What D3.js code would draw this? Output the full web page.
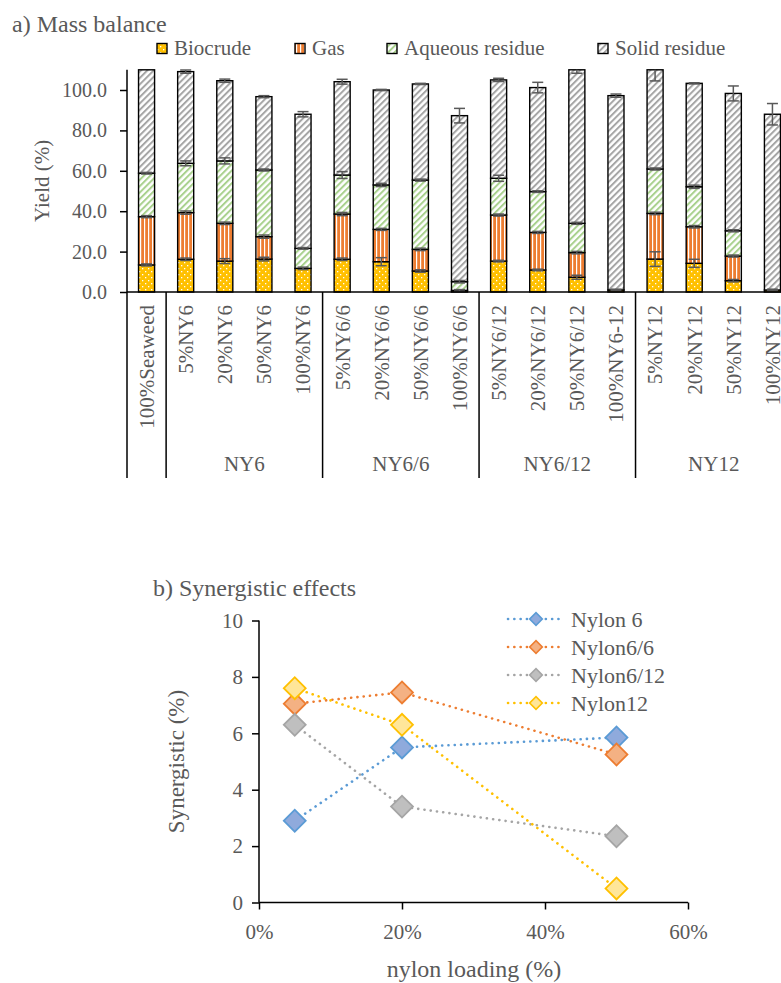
<!DOCTYPE html>
<html>
<head>
<meta charset="utf-8">
<script src="https://cdn.jsdelivr.net/npm/d3@7"></script>
<style>
  body { margin: 0; background: #fff; }
  svg { display: block; font-family: "Liberation Serif", serif; }
  text { fill: #595959; }
</style>
</head>
<body>
<svg id="chart" width="781" height="983"></svg>
<script>
"use strict";

// ---- data: a) mass balance ----
const categories = ["100%Seaweed", "5%NY6", "20%NY6", "50%NY6", "100%NY6",
    "5%NY6/6", "20%NY6/6", "50%NY6/6", "100%NY6/6",
    "5%NY6/12", "20%NY6/12", "50%NY6/12", "100%NY6-12",
    "5%NY12", "20%NY12", "50%NY12", "100%NY12"];
const groupNames = ["", "NY6", "NY6/6", "NY6/12", "NY12"];
const groupSizes = [1, 4, 4, 4, 4];

const biocrude = [13.4, 16.2, 15.3, 16.3, 11.7, 16.2, 15.0, 10.4, 0.8, 15.3, 10.9, 7.3, 1.0, 16.3, 14.2, 5.6, 1.0];
const gas      = [23.9, 23.1, 18.7, 11.1, 0.0, 22.4, 16.0, 10.7, 0.0, 22.8, 18.6, 12.2, 0.0, 22.6, 18.1, 12.2, 0.0];
const aqueous  = [21.5, 24.4, 30.9, 33.0, 9.9, 19.3, 22.0, 34.3, 4.3, 18.2, 20.2, 14.5, 0.0, 22.0, 19.8, 12.5, 0.0];
const solid    = [56.2, 45.4, 39.7, 36.3, 66.4, 46.2, 47.0, 47.6, 82.2, 48.7, 51.5, 76.3, 96.2, 50.6, 51.2, 68.0, 87.0];

const biocrudeErr = [0.5, 0.6, 1.2, 0.9, 0.6, 0.6, 2.0, 0.6, 0.4, 0.4, 0.4, 1.0, 0.4, 3.6, 2.0, 0.6, 0.4];
const gasErr      = [0.5, 0.8, 0.6, 0.8, 0.0, 0.8, 0.5, 0.6, 0.0, 0.5, 0.5, 0.6, 0.0, 0.6, 0.6, 0.5, 0.0];
const aqueousErr  = [0.4, 1.2, 1.5, 0.5, 0.4, 1.7, 0.8, 0.5, 0.6, 1.5, 0.4, 0.5, 0.0, 0.5, 0.8, 0.5, 0.0];
const solidErr    = [1.0, 0.8, 0.8, 0.5, 1.3, 1.2, 0.3, 0.3, 3.6, 0.8, 2.6, 2.0, 0.8, 7.0, 0.3, 3.7, 5.3];

const yieldTicks = [0, 20, 40, 60, 80, 100];

// ---- data: b) synergistic effects ----
const loadings = [0.05, 0.20, 0.50];
const nylon6   = [2.9, 5.5, 5.85];
const nylon66  = [7.05, 7.45, 5.25];
const nylon612 = [6.3, 3.4, 2.35];
const nylon12  = [7.6, 6.3, 0.5];
const loadingTicks = [0, 0.2, 0.4, 0.6];
const synTicks = [0, 2, 4, 6, 8, 10];

const svg = d3.select("#chart");
const defs = svg.append("defs");

// fill patterns
const pBio = defs.append("pattern").attr("id", "pBio")
    .attr("patternUnits", "userSpaceOnUse").attr("width", 6).attr("height", 6);
pBio.append("rect").attr("width", 6).attr("height", 6).attr("fill", "#FFC000");
pBio.append("rect").attr("x", 1).attr("y", 1).attr("width", 1.3).attr("height", 1.3).attr("fill", "#fff");
pBio.append("rect").attr("x", 4).attr("y", 4).attr("width", 1.3).attr("height", 1.3).attr("fill", "#fff");

const pGas = defs.append("pattern").attr("id", "pGas")
    .attr("patternUnits", "userSpaceOnUse").attr("width", 4).attr("height", 4);
pGas.append("rect").attr("width", 4).attr("height", 4).attr("fill", "#ED7D31");
pGas.append("rect").attr("x", 0).attr("width", 1.2).attr("height", 4).attr("fill", "#fff");

function stripes(id, color) {
    const p = defs.append("pattern").attr("id", id)
        .attr("patternUnits", "userSpaceOnUse").attr("width", 4.5).attr("height", 4.5)
        .attr("patternTransform", "rotate(45)");
    p.append("rect").attr("width", 4.5).attr("height", 4.5).attr("fill", "#fff");
    p.append("rect").attr("width", 2).attr("height", 4.5).attr("fill", color);
}
stripes("pAq", "#A9D18E");
stripes("pSolid", "#A5A5A5");

const series = [
    { name: "Biocrude", values: biocrude, err: biocrudeErr, fill: "url(#pBio)" },
    { name: "Gas", values: gas, err: gasErr, fill: "url(#pGas)" },
    { name: "Aqueous residue", values: aqueous, err: aqueousErr, fill: "url(#pAq)" },
    { name: "Solid residue", values: solid, err: solidErr, fill: "url(#pSolid)" }
];

// ================= a) Mass balance =================
const x = d3.scaleBand().domain(categories).range([127, 792])
    .paddingInner(0.59).paddingOuter(0.295);
const y = d3.scaleLinear().domain([0, 110]).range([292, 69.8]).clamp(true);

svg.append("text").attr("x", 12).attr("y", 32)
    .style("font-size", "24px").text("a) Mass balance");

// stacked bars
const stack = categories.map((c, i) => {
    let base = 0;
    return series.map(s => {
        const seg = { cat: c, y0: base, y1: base + s.values[i], err: s.err[i], fill: s.fill };
        base += s.values[i];
        return seg;
    });
});

const barG = svg.append("g");
stack.forEach(segs => {
    segs.forEach(d => {
        if (d.y1 - d.y0 <= 0) return;
        barG.append("rect")
            .attr("x", x(d.cat))
            .attr("y", y(d.y1))
            .attr("width", x.bandwidth())
            .attr("height", y(d.y0) - y(d.y1))
            .attr("fill", d.fill)
            .attr("stroke", "#000")
            .attr("stroke-width", 1.4);
    });
});

// error bars
const errG = svg.append("g").attr("stroke", "#595959").attr("stroke-width", 1.5);
stack.forEach(segs => {
    segs.forEach(d => {
        if (d.err <= 0) return;
        const cx = x(d.cat) + x.bandwidth() / 2;
        errG.append("line").attr("x1", cx).attr("x2", cx)
            .attr("y1", y(d.y1 - d.err)).attr("y2", y(d.y1 + d.err));
        [d.y1 - d.err, d.y1 + d.err].forEach(v => {
            if (v > 110) return;
            errG.append("line").attr("x1", cx - 5.5).attr("x2", cx + 5.5)
                .attr("y1", y(v)).attr("y2", y(v));
        });
    });
});

// y axis
const yAxisG = svg.append("g").attr("transform", "translate(127,0)")
    .call(d3.axisLeft(y).tickValues(yieldTicks).tickSize(7).tickFormat(d3.format(".1f")));
yAxisG.select(".domain").attr("stroke", "#000").attr("stroke-width", 1.5)
    .attr("d", `M0,${y(110)}V${y(0)}`);
yAxisG.selectAll(".tick line").attr("stroke", "#000").attr("stroke-width", 1.5);
yAxisG.selectAll(".tick text").attr("x", -20).style("font-size", "20px")
    .style("font-family", "Liberation Serif").attr("fill", "#595959");

svg.append("text")
    .attr("transform", `translate(49,${y(55)}) rotate(-90)`)
    .attr("text-anchor", "middle")
    .style("font-size", "21px").text("Yield (%)");

// x axis line
svg.append("line").attr("x1", 127).attr("x2", 792).attr("y1", 292).attr("y2", 292)
    .attr("stroke", "#000").attr("stroke-width", 1.5);

// category labels
svg.append("g").selectAll("text").data(categories).join("text")
    .attr("transform", d => `translate(${x(d) + x.bandwidth() / 2},305) rotate(-90)`)
    .attr("text-anchor", "end")
    .attr("dy", "0.35em")
    .style("font-size", "21px")
    .text(d => d);

// group separators and labels
let cum = 0;
const step = x.step();
groupSizes.forEach((n, gi) => {
    const left = 127 + cum * step;
    svg.append("line").attr("x1", left).attr("x2", left).attr("y1", 292).attr("y2", 478)
        .attr("stroke", "#000").attr("stroke-width", 1.5);
    svg.append("text").attr("x", left + n * step / 2).attr("y", 471)
        .attr("text-anchor", "middle").style("font-size", "21px").text(groupNames[gi]);
    cum += n;
});
svg.append("line").attr("x1", 127 + cum * step).attr("x2", 127 + cum * step)
    .attr("y1", 292).attr("y2", 478).attr("stroke", "#000").attr("stroke-width", 1.5);

// legend
const legendX = [157, 295, 387, 598];
series.forEach((s, i) => {
    svg.append("rect").attr("x", legendX[i]).attr("y", 43.5).attr("width", 10).attr("height", 10)
        .attr("fill", s.fill).attr("stroke", "#000").attr("stroke-width", 1.4);
    svg.append("text").attr("x", legendX[i] + 17).attr("y", 55)
        .style("font-size", "21px").text(s.name);
});

// ================= b) Synergistic effects =================
const x2 = d3.scaleLinear().domain([0, 0.6]).range([259, 688]);
const y2 = d3.scaleLinear().domain([0, 10]).range([902.5, 620.5]);

svg.append("text").attr("x", 153).attr("y", 596)
    .style("font-size", "24px").text("b) Synergistic effects");

const xAxis2 = svg.append("g").attr("transform", "translate(0,902.5)")
    .call(d3.axisBottom(x2).tickValues(loadingTicks).tickSize(7).tickFormat(d3.format(".0%")));
const yAxis2 = svg.append("g").attr("transform", "translate(259,0)")
    .call(d3.axisLeft(y2).tickValues(synTicks).tickSize(7));
[xAxis2, yAxis2].forEach(g => {
    g.select(".domain").attr("stroke", "#000").attr("stroke-width", 1.5);
    g.selectAll(".tick line").attr("stroke", "#000").attr("stroke-width", 1.5);
    g.selectAll(".tick text").style("font-size", "21px")
        .style("font-family", "Liberation Serif").attr("fill", "#595959");
});
xAxis2.select(".domain").attr("d", `M${x2(0)},0H${x2(0.6)}`);
yAxis2.select(".domain").attr("d", `M0,${y2(10)}V${y2(0)}`);
xAxis2.selectAll(".tick text").attr("y", 22);
yAxis2.selectAll(".tick text").attr("x", -16);

svg.append("text").attr("x", 474).attr("y", 977).attr("text-anchor", "middle")
    .style("font-size", "24px").text("nylon loading (%)");
svg.append("text")
    .attr("transform", `translate(184,${y2(5)}) rotate(-90)`)
    .attr("text-anchor", "middle")
    .style("font-size", "23px").text("Synergistic (%)");

const lines = [
    { name: "Nylon 6", values: nylon6, stroke: "#5B9BD5", fill: "#8FAADC" },
    { name: "Nylon6/6", values: nylon66, stroke: "#ED7D31", fill: "#F4B183" },
    { name: "Nylon6/12", values: nylon612, stroke: "#A5A5A5", fill: "#BFBFBF" },
    { name: "Nylon12", values: nylon12, stroke: "#FFC000", fill: "#FFE699" }
];

const lineGen = d3.line().x((d, i) => x2(loadings[i])).y(d => y2(d));
const diamond = d3.symbol(d3.symbolSquare, 240);
const diamondSmall = d3.symbol(d3.symbolSquare, 80);

lines.forEach(s => {
    svg.append("path").attr("d", lineGen(s.values))
        .attr("fill", "none").attr("stroke", s.stroke).attr("stroke-width", 2.6)
        .attr("stroke-linecap", "round").attr("stroke-dasharray", "0.1 6.2");
    s.values.forEach((v, i) => {
        svg.append("path").attr("d", diamond())
            .attr("transform", `translate(${x2(loadings[i])},${y2(v)}) rotate(45)`)
            .attr("fill", s.fill).attr("stroke", s.stroke).attr("stroke-width", 1.8);
    });
});

// legend b
lines.forEach((s, i) => {
    const ly = 619 + i * 28;
    svg.append("line").attr("x1", 508).attr("x2", 564).attr("y1", ly).attr("y2", ly)
        .attr("stroke", s.stroke).attr("stroke-width", 2.6)
        .attr("stroke-linecap", "round").attr("stroke-dasharray", "0.1 6.2");
    svg.append("path").attr("d", diamondSmall())
        .attr("transform", `translate(536,${ly}) rotate(45)`)
        .attr("fill", s.fill).attr("stroke", s.stroke).attr("stroke-width", 1.6);
    svg.append("text").attr("x", 571).attr("y", ly).attr("dy", "0.35em")
        .style("font-size", "22px").text(s.name);
});
</script>
</body>
</html>
